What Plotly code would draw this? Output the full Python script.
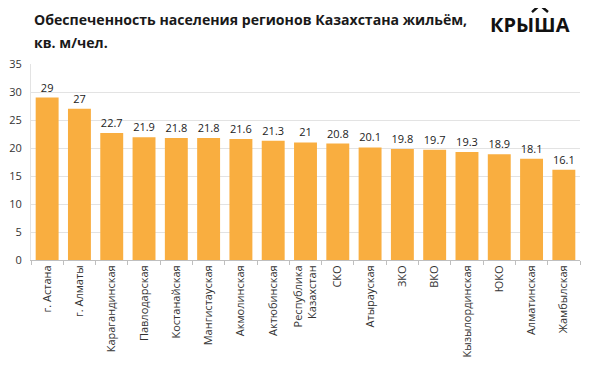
import plotly.graph_objects as go

categories = ["г. Астана", "г. Алматы", "Карагандинская", "Павлодарская", "Костанайская",
              "Мангистауская", "Акмолинская", "Актюбинская", "Республика<br>Казахстан", "СКО",
              "Атырауская", "ЗКО", "ВКО", "Кызылординская", "ЮКО", "Алматинская", "Жамбылская"]
values = [29, 27, 22.7, 21.9, 21.8, 21.8, 21.6, 21.3, 21, 20.8, 20.1, 19.8, 19.7, 19.3, 18.9, 18.1, 16.1]
y_ticks = [0, 5, 10, 15, 20, 25, 30, 35]

font = "Open Sans, DejaVu Sans, sans-serif"

fig = go.Figure()
fig.add_trace(go.Bar(
    x=categories, y=values,
    marker=dict(color="#F9AE40", line=dict(width=0)),
    text=[f"{v:g}" for v in values],
    textposition="outside",
    textfont=dict(size=11, color="#222222", family=font),
    cliponaxis=False,
))

fig.update_layout(
    width=582, height=369,
    margin=dict(l=23, r=10, t=56, b=117),
    paper_bgcolor="white", plot_bgcolor="white",
    bargap=0.29,
    showlegend=False,
    font=dict(family=font, size=11, color="#333333"),
    annotations=[
        dict(text="<b>Обеспеченность населения регионов Казахстана жильём,</b>",
             xref="paper", yref="paper", x=0, xshift=1, y=1.2245,
             xanchor="left", yanchor="middle", align="left", showarrow=False,
             font=dict(size=14.1, color="#1a1a1a", family=font)),
        dict(text="<b>кв. м/чел.</b>",
             xref="paper", yref="paper", x=0, xshift=1, y=1.112,
             xanchor="left", yanchor="middle", align="left", showarrow=False,
             font=dict(size=14.1, color="#1a1a1a", family=font)),
        dict(text="<b>КРЫША</b>",
             xref="paper", yref="paper", x=0.909, y=1.204,
             xanchor="center", yanchor="middle", showarrow=False,
             font=dict(size=20, color="#111111", family="Open Sans, sans-serif")),
    ],
    shapes=[
        dict(type="path", xref="paper", yref="paper",
             path="M 0.9126 1.265 L 0.927 1.301 L 0.9417 1.265",
             line=dict(color="#111111", width=2.5)),
    ],
)

fig.update_xaxes(
    automargin=False,
    showline=True, linecolor="#bfbfbf", linewidth=1,
    ticks="outside", tickson="boundaries", ticklen=4, tickcolor="#bfbfbf",
    tickangle=-90, tickfont=dict(size=11, color="#333333"),
    showgrid=False,
)
fig.update_yaxes(
    automargin=False,
    range=[0, 35], tickvals=y_ticks,
    showgrid=True, gridcolor="#e3e3e3", gridwidth=1,
    showline=True, linecolor="#e3e3e3",
    tickfont=dict(size=11, color="#333333"),
    zeroline=False, ticks="", ticklabelstandoff=6,
)

fig.write_html("out.html")
